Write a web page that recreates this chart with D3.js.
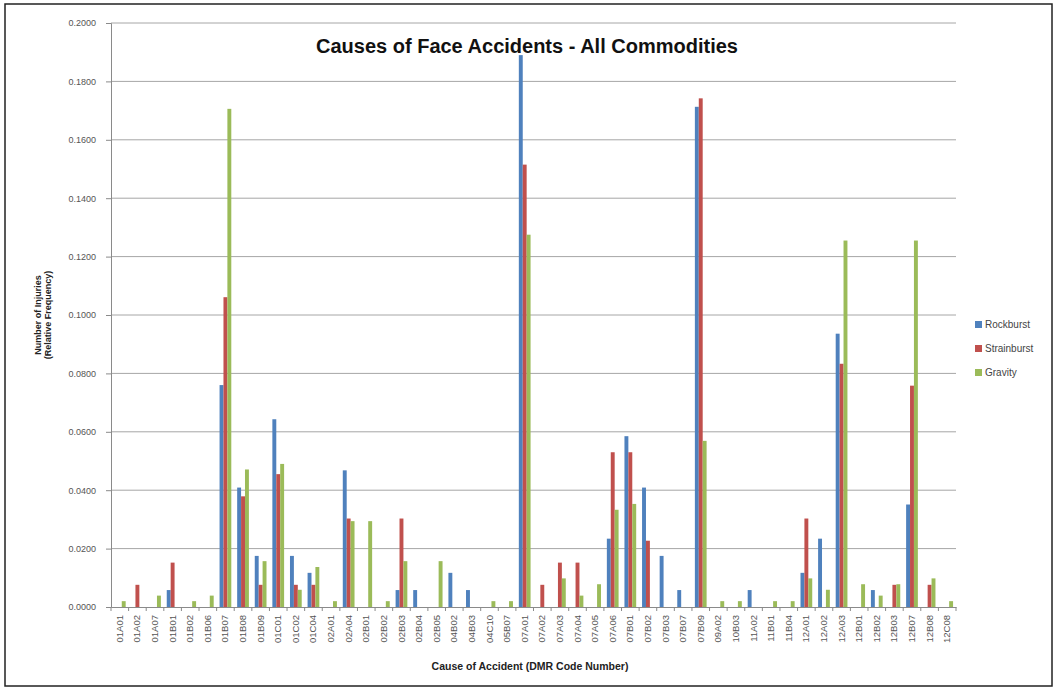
<html>
  <head>
    <script src="https://d3js.org/d3.v7.min.js"></script>
    <style>
      body { margin: 0; background: #fff; }
      text { font-family: "Liberation Sans", Arial, sans-serif; }
    </style>
  </head>
  <body>
    <div id="vis"></div>
    <script>
      // Categories (DMR code numbers)
      var categories = ["01A01", "01A02", "01A07", "01B01", "01B02", "01B06", "01B07", "01B08",
        "01B09", "01C01", "01C02", "01C04", "02A01", "02A04", "02B01", "02B02", "02B03", "02B04",
        "02B05", "04B02", "04B03", "04C10", "05B07", "07A01", "07A02", "07A03", "07A04", "07A05",
        "07A06", "07B01", "07B02", "07B03", "07B07", "07B09", "09A02", "10B03", "11A02", "11B01",
        "11B04", "12A01", "12A02", "12A03", "12B01", "12B02", "12B03", "12B07", "12B08", "12C08"];

      var seriesNames = ["Rockburst", "Strainburst", "Gravity"];
      var seriesColors = ["#4F81BD", "#C0504D", "#9BBB59"];

      var rockburst = [0, 0, 0, 0.0058, 0, 0, 0.0760, 0.0409,
        0.0175, 0.0643, 0.0175, 0.0117, 0, 0.0468, 0, 0, 0.0058, 0.0058,
        0, 0.0117, 0.0058, 0, 0, 0.1890, 0, 0, 0, 0,
        0.0234, 0.0585, 0.0409, 0.0175, 0.0058, 0.1713, 0, 0, 0.0058, 0,
        0, 0.0117, 0.0234, 0.0936, 0, 0.0058, 0, 0.0351, 0, 0];

      var strainburst = [0, 0.0076, 0, 0.0152, 0, 0, 0.1061, 0.0379,
        0.0076, 0.0455, 0.0076, 0.0076, 0, 0.0303, 0, 0, 0.0303, 0,
        0, 0, 0, 0, 0, 0.1515, 0.0076, 0.0152, 0.0152, 0,
        0.0530, 0.0530, 0.0227, 0, 0, 0.1742, 0, 0, 0, 0,
        0, 0.0303, 0, 0.0833, 0, 0, 0.0076, 0.0758, 0.0076, 0];

      var gravity = [0.0020, 0, 0.0039, 0, 0.0020, 0.0039, 0.1706, 0.0471,
        0.0157, 0.0490, 0.0059, 0.0137, 0.0020, 0.0294, 0.0294, 0.0020, 0.0157, 0,
        0.0157, 0, 0, 0.0020, 0.0020, 0.1275, 0, 0.0098, 0.0039, 0.0078,
        0.0333, 0.0353, 0, 0, 0, 0.0569, 0.0020, 0.0020, 0, 0.0020,
        0.0020, 0.0098, 0.0059, 0.1255, 0.0078, 0.0039, 0.0078, 0.1255, 0.0098, 0.0020];

      var yTicks = [0, 0.02, 0.04, 0.06, 0.08, 0.1, 0.12, 0.14, 0.16, 0.18, 0.2];

      var W = 1057, H = 690;
      var margin = { top: 23, right: 101, bottom: 83, left: 111 };
      var width = W - margin.left - margin.right;
      var height = H - margin.top - margin.bottom;

      var root = d3.select("#vis").append("svg")
        .attr("width", W)
        .attr("height", H);

      // outer frame
      root.append("rect")
        .attr("x", 5).attr("y", 4)
        .attr("width", W - 10).attr("height", H - 8)
        .attr("fill", "#fff")
        .attr("stroke", "#222")
        .attr("stroke-width", 1.5);

      var svg = root.append("g")
        .attr("transform", "translate(" + margin.left + "," + margin.top + ")");

      var values = [rockburst, strainburst, gravity];
      var data = categories.map(function (c, i) {
        return { cat: c, vals: seriesNames.map(function (s, j) { return { s: s, j: j, v: values[j][i] }; }) };
      });

      var x0 = d3.scaleBand().domain(categories).range([0, width]).padding(0);
      var x1 = d3.scaleBand().domain(seriesNames).range([0, x0.bandwidth()])
        .paddingInner(0).paddingOuter(0.75);
      var y = d3.scaleLinear().domain([0, 0.2]).range([height, 0]);

      // gridlines
      svg.append("g")
        .selectAll("line")
        .data(yTicks.slice(1))
        .enter().append("line")
        .attr("x1", 0).attr("x2", width)
        .attr("y1", function (d) { return y(d); })
        .attr("y2", function (d) { return y(d); })
        .attr("stroke", "#a6a6a6")
        .attr("stroke-width", 1);

      // y axis
      var yAxis = svg.append("g")
        .call(d3.axisLeft(y).tickValues(yTicks).tickFormat(d3.format(".4f")).tickSize(5).tickPadding(10));
      yAxis.select(".domain").attr("stroke", "#8a8a8a");
      yAxis.selectAll(".tick line").attr("stroke", "#8a8a8a");
      yAxis.selectAll("text").attr("fill", "#555").style("font-size", "9px");

      // bars
      var groups = svg.selectAll(".grp")
        .data(data)
        .enter().append("g")
        .attr("class", "grp")
        .attr("transform", function (d) { return "translate(" + x0(d.cat) + ",0)"; });

      groups.selectAll("rect")
        .data(function (d) { return d.vals.filter(function (e) { return e.v > 0; }); })
        .enter().append("rect")
        .attr("x", function (d) { return x1(d.s); })
        .attr("y", function (d) { return y(d.v); })
        .attr("width", x1.bandwidth())
        .attr("height", function (d) { return height - y(d.v); })
        .attr("fill", function (d) { return seriesColors[d.j]; });

      // x axis
      var xAxis = svg.append("g")
        .attr("transform", "translate(0," + height + ")")
        .call(d3.axisBottom(x0).tickSize(0).tickPadding(6));
      xAxis.select(".domain").attr("stroke", "#8a8a8a");
      xAxis.selectAll("text")
        .attr("fill", "#555")
        .style("font-size", "9.5px")
        .attr("text-anchor", "end")
        .attr("transform", "rotate(-90)")
        .attr("x", -8).attr("y", 0).attr("dy", "0.32em");
      // tick marks between categories
      xAxis.selectAll(".sep")
        .data(d3.range(categories.length + 1))
        .enter().append("line")
        .attr("x1", function (i) { return i * x0.step(); })
        .attr("x2", function (i) { return i * x0.step(); })
        .attr("y1", 0).attr("y2", 4)
        .attr("stroke", "#8a8a8a");

      // title
      root.append("text")
        .attr("x", 527).attr("y", 53)
        .attr("text-anchor", "middle")
        .style("font-size", "20px")
        .style("font-weight", "bold")
        .attr("fill", "#111")
        .text("Causes of Face Accidents - All Commodities");

      // axis titles
      var yt = root.append("text")
        .attr("transform", "translate(41,315) rotate(-90)")
        .attr("text-anchor", "middle")
        .style("font-size", "9px")
        .style("font-weight", "bold")
        .attr("fill", "#222");
      yt.append("tspan").attr("x", 0).attr("dy", 0).text("Number of Injuries");
      yt.append("tspan").attr("x", 0).attr("dy", "1.15em").text("(Relative Frequency)");

      root.append("text")
        .attr("x", 530).attr("y", 670)
        .attr("text-anchor", "middle")
        .style("font-size", "10.5px")
        .style("font-weight", "bold")
        .attr("fill", "#222")
        .text("Cause of Accident (DMR Code Number)");

      // legend
      var legend = root.append("g").attr("transform", "translate(975,325)");
      seriesNames.forEach(function (s, j) {
        var g = legend.append("g").attr("transform", "translate(0," + j * 24 + ")");
        g.append("rect").attr("x", 0).attr("y", -4).attr("width", 7).attr("height", 7)
          .attr("fill", seriesColors[j]);
        g.append("text").attr("x", 10).attr("y", 0).attr("dy", "0.32em")
          .style("font-size", "10px").attr("fill", "#444").text(s);
      });
    </script>
  </body>
</html>
